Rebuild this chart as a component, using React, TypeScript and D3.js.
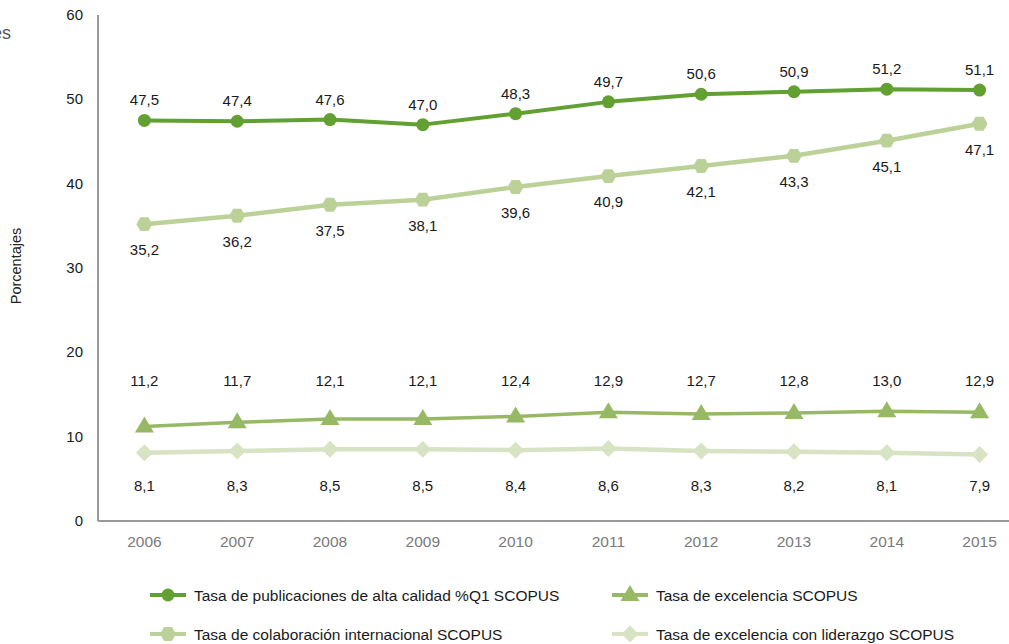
import React from "react";
import * as d3 from "d3";

const years = ["2006","2007","2008","2009","2010","2011","2012","2013","2014","2015"];
const q1 = [47.5,47.4,47.6,47.0,48.3,49.7,50.6,50.9,51.2,51.1];
const colab = [35.2,36.2,37.5,38.1,39.6,40.9,42.1,43.3,45.1,47.1];
const excel = [11.2,11.7,12.1,12.1,12.4,12.9,12.7,12.8,13.0,12.9];
const lider = [8.1,8.3,8.5,8.5,8.4,8.6,8.3,8.2,8.1,7.9];
const yTicks = [0,10,20,30,40,50,60];
const seriesNames = [
  "Tasa de publicaciones de alta calidad %Q1 SCOPUS",
  "Tasa de excelencia SCOPUS",
  "Tasa de colaboración internacional SCOPUS",
  "Tasa de excelencia con liderazgo SCOPUS",
];

const W = 1009, H = 644;
const left = 98, right = 1026, top = 15, bottom = 521;
const FONT = "Liberation Sans, Arial, Helvetica, sans-serif";

const x = d3.scaleBand<string>().domain(years).range([left, right]);
const cx = (y: string) => (x(y) as number) + x.bandwidth() / 2;
const yS = d3.scaleLinear().domain([0, 60]).range([bottom, top]);

const fmt = (v: number) => v.toFixed(1).replace(".", ",");

type Marker = "circle" | "hex" | "tri" | "diamond";

function MarkerShape({ kind, x0, y0, color }: { kind: Marker; x0: number; y0: number; color: string }) {
  if (kind === "circle") return <circle cx={x0} cy={y0} r={6.5} fill={color} />;
  if (kind === "hex") {
    const r = 8;
    const pts = d3.range(6).map(i => {
      const a = (Math.PI / 3) * i;
      return [x0 + r * Math.cos(a), y0 + r * Math.sin(a)].join(",");
    }).join(" ");
    return <polygon points={pts} fill={color} />;
  }
  if (kind === "tri") {
    const p = `${x0},${y0 - 10} ${x0 + 9.5},${y0 + 6} ${x0 - 9.5},${y0 + 6}`;
    return <polygon points={p} fill={color} />;
  }
  const r = 8.5;
  return <polygon points={`${x0},${y0 - r} ${x0 + r},${y0} ${x0},${y0 + r} ${x0 - r},${y0}`} fill={color} />;
}

const series: { vals: number[]; color: string; marker: Marker; width: number; label: (v: number) => number; name: string }[] = [
  { vals: q1, color: "#62a032", marker: "circle", width: 4, label: v => yS(v) - 15, name: seriesNames[0] },
  { vals: colab, color: "#bcd198", marker: "hex", width: 4.5, label: v => yS(v) + 31, name: seriesNames[2] },
  { vals: excel, color: "#97b865", marker: "tri", width: 3.5, label: () => yS(16.0), name: seriesNames[1] },
  { vals: lider, color: "#d7e3c2", marker: "diamond", width: 4.5, label: () => yS(3.6), name: seriesNames[3] },
];

export default function App() {
  const line = d3.line<number>().x((_, i) => cx(years[i])).y(v => yS(v));
  const legend = [
    { s: series[0], lx: 150, ly: 595 },
    { s: series[2], lx: 612, ly: 595 },
    { s: series[1], lx: 150, ly: 634 },
    { s: series[3], lx: 612, ly: 634 },
  ];
  return (
    <svg width={W} height={H} style={{ position: "absolute", left: 0, top: 0, background: "#fff" }} fontFamily={FONT}>
      <text x={11} y={39} textAnchor="end" fontSize={18} fill="#555">Porcentajes</text>
      <text transform={`translate(21,${266}) rotate(-90)`} textAnchor="middle" fontSize={14.5} fill="#222">Porcentajes</text>
      {yTicks.map(t => (
        <text key={t} x={83} y={yS(t) + 5} textAnchor="end" fontSize={15} fill="#1a1a1a">{t}</text>
      ))}
      <line x1={left} x2={left} y1={top} y2={bottom} stroke="#999" strokeWidth={2} />
      <line x1={left} x2={W} y1={bottom} y2={bottom} stroke="#999" strokeWidth={2} />
      {years.map(yr => (
        <text key={yr} x={cx(yr)} y={547} textAnchor="middle" fontSize={15.5} fill="#7a7a7a">{yr}</text>
      ))}
      {series.map((s, si) => (
        <g key={si}>
          <path d={line(s.vals) || ""} fill="none" stroke={s.color} strokeWidth={s.width} strokeLinejoin="round" />
          {s.vals.map((v, i) => (
            <MarkerShape key={i} kind={s.marker} x0={cx(years[i])} y0={yS(v)} color={s.color} />
          ))}
          {s.vals.map((v, i) => (
            <text key={"t" + i} x={cx(years[i])} y={s.label(v)} textAnchor="middle" fontSize={15} fill="#1a1a1a">{fmt(v)}</text>
          ))}
        </g>
      ))}
      {legend.map((l, i) => (
        <g key={i}>
          <line x1={l.lx} x2={l.lx + 36} y1={l.ly} y2={l.ly} stroke={l.s.color} strokeWidth={4} />
          <MarkerShape kind={l.s.marker} x0={l.lx + 18} y0={l.ly} color={l.s.color} />
          <text x={l.lx + 44} y={l.ly + 5.5} fontSize={15.5} fill="#1a1a1a">{l.s.name}</text>
        </g>
      ))}
    </svg>
  );
}
